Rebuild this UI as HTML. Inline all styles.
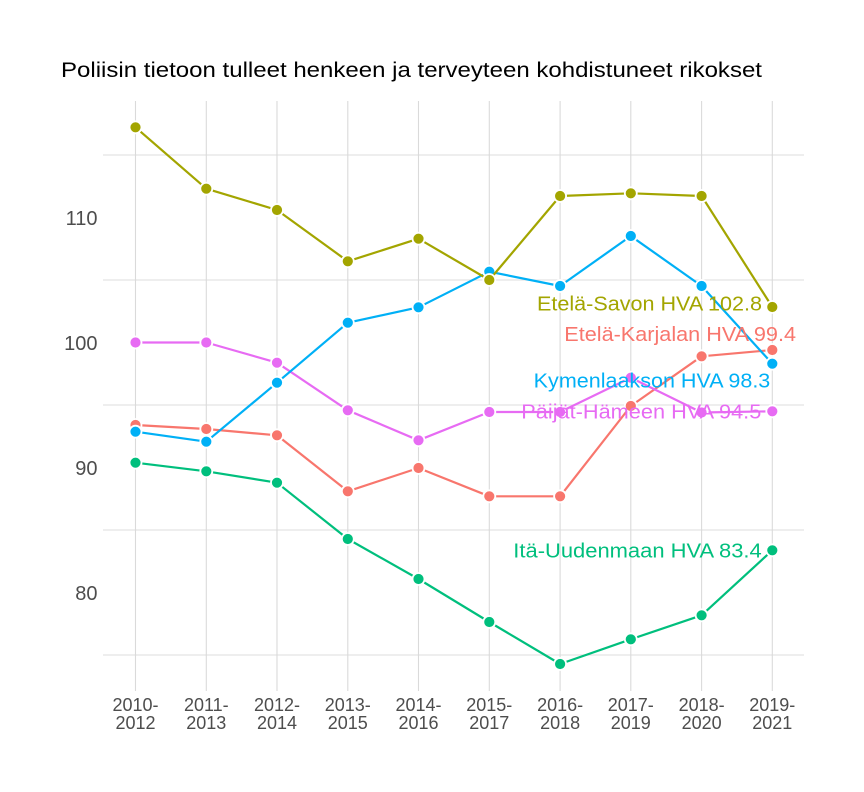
<!DOCTYPE html>
<html>
<head>
<meta charset="utf-8">
<style>
  html, body { margin: 0; padding: 0; background: #ffffff; }
  svg { display: block; }
  text { font-family: "Liberation Sans", "DejaVu Sans", sans-serif; }
</style>
</head>
<body>
<svg width="864" height="792" viewBox="0 0 864 792" xmlns="http://www.w3.org/2000/svg">
  <rect width="864" height="792" fill="#ffffff"/>

  <!-- Title -->
  <text x="61" y="77" font-size="21" fill="#000000" textLength="701" lengthAdjust="spacingAndGlyphs">Poliisin tietoon tulleet henkeen ja terveyteen kohdistuneet rikokset</text>

  <!-- Horizontal gridlines -->
  <g stroke="#e3e3e3" stroke-width="1.2">
    <line x1="103" y1="155" x2="804" y2="155"/>
    <line x1="103" y1="280" x2="804" y2="280"/>
    <line x1="103" y1="405" x2="804" y2="405"/>
    <line x1="103" y1="530" x2="804" y2="530"/>
    <line x1="103" y1="655" x2="804" y2="655"/>
  </g>
  <!-- Vertical gridlines -->
  <g stroke="#dadada" stroke-width="1.1">
    <line x1="135.5" y1="101" x2="135.5" y2="691"/>
    <line x1="206.3" y1="101" x2="206.3" y2="691"/>
    <line x1="277.0" y1="101" x2="277.0" y2="691"/>
    <line x1="347.8" y1="101" x2="347.8" y2="691"/>
    <line x1="418.5" y1="101" x2="418.5" y2="691"/>
    <line x1="489.3" y1="101" x2="489.3" y2="691"/>
    <line x1="560.1" y1="101" x2="560.1" y2="691"/>
    <line x1="630.8" y1="101" x2="630.8" y2="691"/>
    <line x1="701.6" y1="101" x2="701.6" y2="691"/>
    <line x1="772.3" y1="101" x2="772.3" y2="691"/>
  </g>

  <!-- Y axis labels -->
  <g font-size="20" fill="#4d4d4d" text-anchor="end">
    <text x="97.5" y="225">110</text>
    <text x="97.5" y="350">100</text>
    <text x="97.5" y="475">90</text>
    <text x="97.5" y="600">80</text>
  </g>

  <!-- X axis labels -->
  <g font-size="18" fill="#4d4d4d" text-anchor="middle">
    <text x="135.5" y="711">2010-</text><text x="135.5" y="729">2012</text>
    <text x="206.3" y="711">2011-</text><text x="206.3" y="729">2013</text>
    <text x="277.0" y="711">2012-</text><text x="277.0" y="729">2014</text>
    <text x="347.8" y="711">2013-</text><text x="347.8" y="729">2015</text>
    <text x="418.5" y="711">2014-</text><text x="418.5" y="729">2016</text>
    <text x="489.3" y="711">2015-</text><text x="489.3" y="729">2017</text>
    <text x="560.1" y="711">2016-</text><text x="560.1" y="729">2018</text>
    <text x="630.8" y="711">2017-</text><text x="630.8" y="729">2019</text>
    <text x="701.6" y="711">2018-</text><text x="701.6" y="729">2020</text>
    <text x="772.3" y="711">2019-</text><text x="772.3" y="729">2021</text>
  </g>

  <!-- Series: Etelä-Karjalan (red) -->
  <g>
    <polyline fill="none" stroke="#F8766D" stroke-width="2.2" stroke-linejoin="round"
      points="135.5,425 206.3,429 277.0,435.3 347.8,491.3 418.5,468 489.3,496.3 560.1,496.3 630.8,406 701.6,356.3 772.3,350"/>
    <g fill="#F8766D" stroke="#ffffff" stroke-width="1.8">
      <circle cx="135.5" cy="425" r="6"/>
      <circle cx="206.3" cy="429" r="6"/>
      <circle cx="277.0" cy="435.3" r="6"/>
      <circle cx="347.8" cy="491.3" r="6"/>
      <circle cx="418.5" cy="468" r="6"/>
      <circle cx="489.3" cy="496.3" r="6"/>
      <circle cx="560.1" cy="496.3" r="6"/>
      <circle cx="630.8" cy="406" r="6"/>
      <circle cx="701.6" cy="356.3" r="6"/>
      <circle cx="772.3" cy="350" r="6"/>
    </g>
  </g>

  <!-- Series: Itä-Uudenmaan (green) -->
  <g>
    <polyline fill="none" stroke="#00BF7D" stroke-width="2.2" stroke-linejoin="round"
      points="135.5,462.7 206.3,471.3 277.0,482.7 347.8,539 418.5,579 489.3,622 560.1,664 630.8,639.3 701.6,615.3 772.3,550.3"/>
    <g fill="#00BF7D" stroke="#ffffff" stroke-width="1.8">
      <circle cx="135.5" cy="462.7" r="6"/>
      <circle cx="206.3" cy="471.3" r="6"/>
      <circle cx="277.0" cy="482.7" r="6"/>
      <circle cx="347.8" cy="539" r="6"/>
      <circle cx="418.5" cy="579" r="6"/>
      <circle cx="489.3" cy="622" r="6"/>
      <circle cx="560.1" cy="664" r="6"/>
      <circle cx="630.8" cy="639.3" r="6"/>
      <circle cx="701.6" cy="615.3" r="6"/>
      <circle cx="772.3" cy="550.3" r="6"/>
    </g>
  </g>

  <!-- Series: Päijät-Hämeen (pink) -->
  <g>
    <polyline fill="none" stroke="#E76BF3" stroke-width="2.2" stroke-linejoin="round"
      points="135.5,342.5 206.3,342.5 277.0,362.7 347.8,410.3 418.5,440.3 489.3,412 560.1,412 630.8,377.7 701.6,412.5 772.3,411.3"/>
    <g fill="#E76BF3" stroke="#ffffff" stroke-width="1.8">
      <circle cx="135.5" cy="342.5" r="6"/>
      <circle cx="206.3" cy="342.5" r="6"/>
      <circle cx="277.0" cy="362.7" r="6"/>
      <circle cx="347.8" cy="410.3" r="6"/>
      <circle cx="418.5" cy="440.3" r="6"/>
      <circle cx="489.3" cy="412" r="6"/>
      <circle cx="560.1" cy="412" r="6"/>
      <circle cx="630.8" cy="377.7" r="6"/>
      <circle cx="701.6" cy="412.5" r="6"/>
      <circle cx="772.3" cy="411.3" r="6"/>
    </g>
  </g>

  <!-- Series: Kymenlaakson (blue) -->
  <g>
    <polyline fill="none" stroke="#00B0F6" stroke-width="2.2" stroke-linejoin="round"
      points="135.5,431.7 206.3,441.7 277.0,382.7 347.8,322.7 418.5,307.3 489.3,271.7 560.1,286 630.8,236 701.6,286 772.3,363.7"/>
    <g fill="#00B0F6" stroke="#ffffff" stroke-width="1.8">
      <circle cx="135.5" cy="431.7" r="6"/>
      <circle cx="206.3" cy="441.7" r="6"/>
      <circle cx="277.0" cy="382.7" r="6"/>
      <circle cx="347.8" cy="322.7" r="6"/>
      <circle cx="418.5" cy="307.3" r="6"/>
      <circle cx="489.3" cy="271.7" r="6"/>
      <circle cx="560.1" cy="286" r="6"/>
      <circle cx="630.8" cy="236" r="6"/>
      <circle cx="701.6" cy="286" r="6"/>
      <circle cx="772.3" cy="363.7" r="6"/>
    </g>
  </g>

  <!-- Series: Etelä-Savon (olive) -->
  <g>
    <polyline fill="none" stroke="#A3A500" stroke-width="2.2" stroke-linejoin="round"
      points="135.5,127.3 206.3,188.7 277.0,210 347.8,261.3 418.5,238.7 489.3,280 560.1,196 630.8,193.3 701.6,196 772.3,307"/>
    <g fill="#A3A500" stroke="#ffffff" stroke-width="1.8">
      <circle cx="135.5" cy="127.3" r="6"/>
      <circle cx="206.3" cy="188.7" r="6"/>
      <circle cx="277.0" cy="210" r="6"/>
      <circle cx="347.8" cy="261.3" r="6"/>
      <circle cx="418.5" cy="238.7" r="6"/>
      <circle cx="489.3" cy="280" r="6"/>
      <circle cx="560.1" cy="196" r="6"/>
      <circle cx="630.8" cy="193.3" r="6"/>
      <circle cx="701.6" cy="196" r="6"/>
      <circle cx="772.3" cy="307" r="6"/>
    </g>
  </g>

  <!-- End labels -->
  <g font-size="20">
    <text x="537" y="310.5" fill="#A3A500" textLength="225" lengthAdjust="spacingAndGlyphs">Etelä-Savon HVA 102.8</text>
    <text x="564.3" y="341" fill="#F8766D" textLength="231.7" lengthAdjust="spacingAndGlyphs">Etelä-Karjalan HVA 99.4</text>
    <text x="533.7" y="387.3" fill="#00B0F6" textLength="236.6" lengthAdjust="spacingAndGlyphs">Kymenlaakson HVA 98.3</text>
    <text x="521.3" y="418.3" fill="#E76BF3" textLength="240" lengthAdjust="spacingAndGlyphs">Päijät-Hämeen HVA 94.5</text>
    <text x="513.3" y="557.7" fill="#00BF7D" textLength="248.4" lengthAdjust="spacingAndGlyphs">Itä-Uudenmaan HVA 83.4</text>
  </g>
</svg>
</body>
</html>
